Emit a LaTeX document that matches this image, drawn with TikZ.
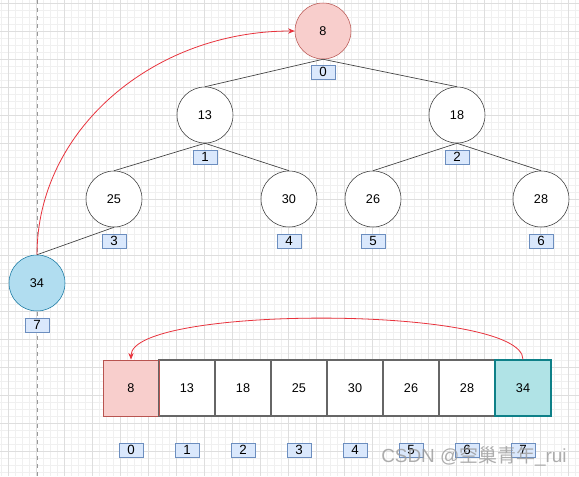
\documentclass[tikz,border=0pt]{standalone}
\usepackage{fontspec}
\setmainfont{Liberation Sans}
\newfontfamily\cjkfont{Noto Sans CJK SC}
\usetikzlibrary{arrows.meta}
\definecolor{pinkfill}{HTML}{F8CECC}
\definecolor{pinkline}{HTML}{B85450}
\definecolor{bluefill}{HTML}{B1DDF0}
\definecolor{blueline}{HTML}{10739E}
\definecolor{tealfill}{HTML}{B0E3E6}
\definecolor{tealline}{HTML}{0E8088}
\definecolor{idxfill}{HTML}{DAE8FC}
\definecolor{idxline}{HTML}{6C8EBF}
\definecolor{minorgrid}{HTML}{F0F0F0}
\definecolor{majorgrid}{HTML}{DEDEDE}
\definecolor{redarrow}{HTML}{E8323C}
\tikzset{
  heapnode/.style={circle, draw=black!80, fill=white, minimum size=56*0.75pt, inner sep=0pt, font=\fontsize{9.5}{10}\selectfont},
  idx/.style={draw=idxline, fill=idxfill, minimum width=24*0.75pt, minimum height=14*0.75pt, inner sep=0pt, font=\fontsize{10}{10}\selectfont},
  cell/.style={draw=black!60, line width=1pt, fill=white, minimum size=56*0.75pt, inner sep=0pt, font=\fontsize{9.5}{10}\selectfont},
  tree/.style={draw=black!75, line width=0.5pt},
  swap/.style={draw=redarrow, line width=0.6pt, -{Stealth[length=5pt,width=4pt]}}
}
\begin{document}
\begin{tikzpicture}[x=0.75pt,y=-0.75pt]
\useasboundingbox (0,0) rectangle (579,476);
\fill[white] (0,0) rectangle (579,476);
% grid
\foreach \x in {1,8,...,579} \draw[minorgrid, line width=0.4pt] (\x,0) -- (\x,476);
\foreach \y in {3,10,...,476} \draw[minorgrid, line width=0.4pt] (0,\y) -- (579,\y);
\foreach \x in {8,36,...,579} \draw[majorgrid, line width=0.4pt] (\x,0) -- (\x,476);
\foreach \y in {3,31,...,476} \draw[majorgrid, line width=0.4pt] (0,\y) -- (579,\y);
% dashed vertical guide
\draw[black!40, dashed, line width=0.5pt] (37,0) -- (37,476);

% heap nodes
\node[heapnode, fill=pinkfill, draw=pinkline] (n0) at (323,31) {8};
\node[heapnode] (n1) at (205,115) {13};
\node[heapnode] (n2) at (457,115) {18};
\node[heapnode] (n3) at (114,199) {25};
\node[heapnode] (n4) at (289,199) {30};
\node[heapnode] (n5) at (373,199) {26};
\node[heapnode] (n6) at (541,199) {28};
\node[heapnode, fill=bluefill, draw=blueline] (n7) at (37,283) {34};

% index labels under heap nodes
\node[idx] (i0) at (323,72) {0};
\node[idx] (i1) at (205,157) {1};
\node[idx] (i2) at (457,157) {2};
\node[idx] (i3) at (114,241) {3};
\node[idx] (i4) at (289,241) {4};
\node[idx] (i5) at (373,241) {5};
\node[idx] (i6) at (541,241) {6};
\node[idx] (i7) at (37,325) {7};

% tree edges
\draw[tree] (n0.south) -- (n1.north);
\draw[tree] (n0.south) -- (n2.north);
\draw[tree] (n1.south) -- (n3.north);
\draw[tree] (n1.south) -- (n4.north);
\draw[tree] (n2.south) -- (n5.north);
\draw[tree] (n2.south) -- (n6.north);
\draw[tree] (n3.south) -- (n7.north);

% red curved arrow in tree
\draw[swap] (n7.north) .. controls (37,131) and (152,31) .. (n0.west);

% array
\node[cell, fill=pinkfill, draw=pinkline, line width=0.6pt] (a0) at (131,388) {8};
\node[cell] (a1) at (187,388) {13};
\node[cell] (a2) at (243,388) {18};
\node[cell] (a3) at (299,388) {25};
\node[cell] (a4) at (355,388) {30};
\node[cell] (a5) at (411,388) {26};
\node[cell] (a6) at (467,388) {28};
\node[cell, fill=tealfill, draw=tealline, line width=0.8pt] (a7) at (523,388) {34};
\draw[pinkline, line width=0.6pt] (a0.north east) -- (a0.south east);

% index labels under array
\node[idx] (j0) at (131,450) {0};
\node[idx] (j1) at (187,450) {1};
\node[idx] (j2) at (243,450) {2};
\node[idx] (j3) at (299,450) {3};
\node[idx] (j4) at (355,450) {4};
\node[idx] (j5) at (411,450) {5};
\node[idx] (j6) at (467,450) {6};
\node[idx] (j7) at (523,450) {7};

% red curved arrow over array
\draw[swap] (a7.north) .. controls (523,305) and (131,305) .. (a0.north);

% watermark
\node[anchor=west, text=black!40, opacity=0.8, font=\fontsize{14.2}{15}\selectfont, inner sep=0pt] (wm) at (381,456) {CSDN @{\cjkfont 空巢青年}\_rui};
\end{tikzpicture}
\end{document}
